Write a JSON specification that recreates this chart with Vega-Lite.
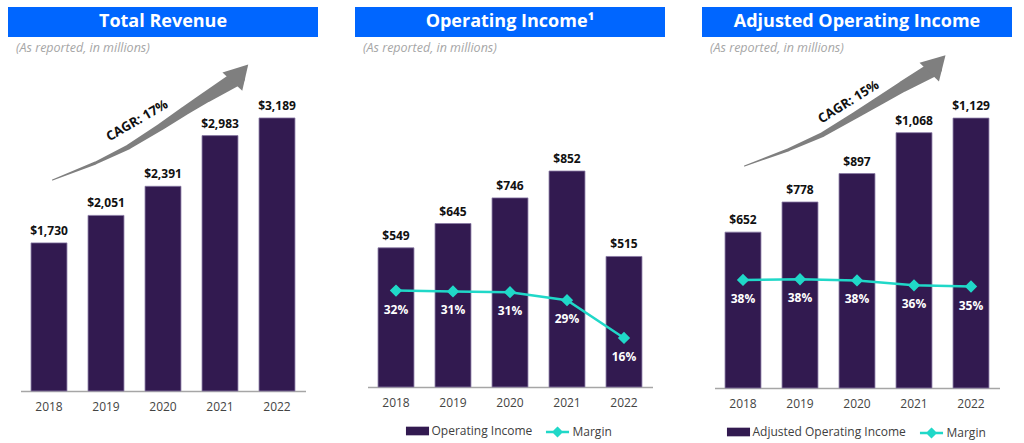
{
  "$schema": "https://vega.github.io/schema/vega-lite/v6.json",
  "padding": {"left": 8, "top": 7, "right": 4, "bottom": 0},
  "background": "#FFFFFF",
  "config": {"view": {"stroke": null}, "font": "Open Sans", "legend": {"layout": {"bottom": {"anchor": "middle", "direction": "horizontal", "margin": 14}}}},
  "spacing": 37,
  "resolve": {"scale": {"color": "independent", "stroke": "independent"}, "legend": {"color": "independent", "stroke": "independent"}},
  "hconcat": [
    {
      "spacing": 23, "bounds": "flush", "center": true,
      "vconcat": [
        {
          "width": 310, "height": 30,
          "view": {"fill": "#0066FF", "stroke": null},
          "title": {"text": "(As reported, in millions)", "orient": "bottom", "anchor": "start", "dx": 8, "offset": 5, "baseline": "top", "fontSize": 12.5, "fontStyle": "italic", "fontWeight": "normal", "font": "Open Sans", "color": "#A6A6A6"},
          "data": {"values": [{"t": "Total Revenue"}]},
          "mark": {"type": "text", "color": "#FFFFFF", "font": "Open Sans", "fontWeight": "bold", "fontSize": 18, "baseline": "middle", "align": "center"},
          "encoding": {"text": {"field": "t"}}
        },
        {
          "width": 285, "height": 331,
          "resolve": {"scale": {"x": "independent", "y": "independent"}},
          "layer": [
            {
              "data": {"values": [
                {"year": "2018", "value": 1730},
                {"year": "2019", "value": 2051},
                {"year": "2020", "value": 2391},
                {"year": "2021", "value": 2983},
                {"year": "2022", "value": 3189}
              ]},
              "encoding": {
                "x": {"field": "year", "type": "ordinal", "scale": {"type": "band", "paddingInner": 0.37, "paddingOuter": 0.185},
                  "axis": {"title": null, "labelAngle": 0, "labelFont": "Open Sans", "labelFontSize": 12, "labelColor": "#444444", "ticks": false, "tickSize": 0, "labelPadding": 10, "domainColor": "#A6A6A6", "domainWidth": 1.5, "grid": false}},
                "y": {"field": "value", "type": "quantitative", "scale": {"domain": [0, 3866], "nice": false}, "axis": null}
              },
              "layer": [
                {"mark": {"type": "bar", "color": "#321A50", "stroke": "#8878A3", "strokeWidth": 0.8}},
                {"mark": {"type": "text", "dy": -12, "baseline": "middle", "font": "Open Sans", "fontWeight": "bold", "fontSize": 12, "color": "#111111"},
                 "encoding": {"text": {"field": "value", "type": "quantitative", "format": "$,.0f"}}}
              ]
            },
            {
              "encoding": {
                "x": {"field": "ax", "type": "quantitative", "scale": {"domain": [2017.5, 2022.5], "nice": false, "zero": false}, "axis": null},
                "y": {"field": "av", "type": "quantitative", "scale": {"domain": [0, 3866], "nice": false, "zero": false}, "axis": null}
              },
              "layer": [
                {
                  "data": {"values": [
                    {"i": 1, "ax": 2018.061, "av": 2464.7, "w": 0},
                    {"i": 2, "ax": 2018.816, "av": 2663.2, "w": 3},
                    {"i": 3, "ax": 2019.395, "av": 2850.1, "w": 5},
                    {"i": 4, "ax": 2019.956, "av": 3083.8, "w": 7},
                    {"i": 5, "ax": 2020.377, "av": 3270.6, "w": 9},
                    {"i": 6, "ax": 2020.763, "av": 3434.2, "w": 11},
                    {"i": 7, "ax": 2021.307, "av": 3656.1, "w": 15}
                  ]},
                  "mark": {"type": "trail", "color": "#7F7F7F"},
                  "encoding": {"size": {"field": "w", "type": "quantitative", "scale": {"domain": [0, 15], "range": [0, 15]}, "legend": null}, "order": {"field": "i", "type": "quantitative"}}
                },
                {
                  "data": {"values": [{"ax": 2021.356, "av": 3714.5}]},
                  "mark": {"type": "point", "shape": "triangle-up", "filled": true, "color": "#7F7F7F", "opacity": 1, "size": 729, "angle": 42.8}
                },
                {
                  "data": {"values": [{"ax": 2019.547, "av": 3157, "label": "CAGR: 17%"}]},
                  "mark": {"type": "text", "angle": 329.7, "font": "Open Sans", "fontWeight": "bold", "fontSize": 13, "color": "#111111", "baseline": "middle", "align": "center"},
                  "encoding": {"text": {"field": "label"}}
                }
              ]
            }
          ]
        }
      ]
    },
    {
      "spacing": 23, "bounds": "flush", "center": true,
      "resolve": {"scale": {"color": "independent", "stroke": "independent"}},
      "vconcat": [
        {
          "width": 310, "height": 30,
          "view": {"fill": "#0066FF", "stroke": null},
          "title": {"text": "(As reported, in millions)", "orient": "bottom", "anchor": "start", "dx": 8, "offset": 5, "baseline": "top", "fontSize": 12.5, "fontStyle": "italic", "fontWeight": "normal", "font": "Open Sans", "color": "#A6A6A6"},
          "data": {"values": [{"t": "Operating Income¹"}]},
          "mark": {"type": "text", "color": "#FFFFFF", "font": "Open Sans", "fontWeight": "bold", "fontSize": 18, "baseline": "middle", "align": "center"},
          "encoding": {"text": {"field": "t"}}
        },
        {
          "width": 285, "height": 327,
          "resolve": {"scale": {"x": "independent", "y": "independent"}},
          "layer": [
            {
              "data": {"values": [
                {"year": "2018", "value": 549},
                {"year": "2019", "value": 645},
                {"year": "2020", "value": 746},
                {"year": "2021", "value": 852},
                {"year": "2022", "value": 515}
              ]},
              "encoding": {
                "x": {"field": "year", "type": "ordinal", "scale": {"type": "band", "paddingInner": 0.37, "paddingOuter": 0.185},
                  "axis": {"title": null, "labelAngle": 0, "labelFont": "Open Sans", "labelFontSize": 12, "labelColor": "#444444", "ticks": false, "tickSize": 0, "labelPadding": 10, "domainColor": "#A6A6A6", "domainWidth": 1.5, "grid": false}},
                "y": {"field": "value", "type": "quantitative", "scale": {"domain": [0, 1290], "nice": false}, "axis": null}
              },
              "layer": [
                {"mark": {"type": "bar", "stroke": "#8878A3", "strokeWidth": 0.8},
                 "encoding": {"color": {"datum": "Operating Income", "type": "nominal",
                   "scale": {"domain": ["Operating Income"], "range": ["#321A50"]},
                   "legend": {"orient": "bottom", "title": null, "direction": "horizontal", "offset": 13, "padding": 0,
                     "labelFont": "Open Sans", "labelFontSize": 12, "labelColor": "#404040", "symbolSize": 370, "labelOffset": 4,
                     "symbolType": "M-1.2,-0.45H1.2V0.45H-1.2Z", "symbolStrokeWidth": 0, "symbolOpacity": 1}}}},
                {"mark": {"type": "text", "dy": -12, "baseline": "middle", "font": "Open Sans", "fontWeight": "bold", "fontSize": 12, "color": "#111111"},
                 "encoding": {"text": {"field": "value", "type": "quantitative", "format": "$,.0f"}}}
              ]
            },
            {
              "data": {"values": [
                {"year": "2018", "margin": 0.3173},
                {"year": "2019", "margin": 0.3145},
                {"year": "2020", "margin": 0.3120},
                {"year": "2021", "margin": 0.2856},
                {"year": "2022", "margin": 0.1615}
              ]},
              "encoding": {
                "x": {"field": "year", "type": "ordinal", "scale": {"type": "point", "padding": 0.5}, "axis": null},
                "y": {"field": "margin", "type": "quantitative", "scale": {"domain": [0, 1.076], "nice": false}, "axis": null}
              },
              "layer": [
                {"mark": {"type": "line", "strokeWidth": 2.5, "point": {"shape": "diamond", "size": 90, "filled": true, "color": "#20D8C8", "opacity": 1}},
                 "encoding": {"stroke": {"datum": "Margin", "type": "nominal",
                   "scale": {"domain": ["Margin"], "range": ["#20D8C8"]},
                   "legend": {"orient": "bottom", "title": null, "direction": "horizontal", "offset": 13, "padding": 0,
                     "labelFont": "Open Sans", "labelFontSize": 12, "labelColor": "#404040", "symbolSize": 370, "labelOffset": 4,
                     "symbolType": "M-1.2,0H1.2M0,-0.4L0.4,0L0,0.4L-0.4,0Z", "symbolStrokeWidth": 2.5, "symbolFillColor": "#20D8C8", "symbolOpacity": 1}}}},
                {"mark": {"type": "text", "dy": 19, "baseline": "middle", "color": "#FFFFFF", "font": "Open Sans", "fontWeight": "bold", "fontSize": 12},
                 "encoding": {"text": {"field": "margin", "type": "quantitative", "format": ".0%"}}}
              ]
            }
          ]
        }
      ]
    },
    {
      "spacing": 23, "bounds": "flush", "center": true,
      "resolve": {"scale": {"color": "independent", "stroke": "independent"}},
      "vconcat": [
        {
          "width": 310, "height": 30,
          "view": {"fill": "#0066FF", "stroke": null},
          "title": {"text": "(As reported, in millions)", "orient": "bottom", "anchor": "start", "dx": 8, "offset": 5, "baseline": "top", "fontSize": 12.5, "fontStyle": "italic", "fontWeight": "normal", "font": "Open Sans", "color": "#A6A6A6"},
          "data": {"values": [{"t": "Adjusted Operating Income"}]},
          "mark": {"type": "text", "color": "#FFFFFF", "font": "Open Sans", "fontWeight": "bold", "fontSize": 18, "baseline": "middle", "align": "center"},
          "encoding": {"text": {"field": "t"}}
        },
        {
          "width": 285, "height": 328,
          "resolve": {"scale": {"x": "independent", "y": "independent"}},
          "layer": [
            {
              "data": {"values": [
                {"year": "2018", "value": 652},
                {"year": "2019", "value": 778},
                {"year": "2020", "value": 897},
                {"year": "2021", "value": 1068},
                {"year": "2022", "value": 1129}
              ]},
              "encoding": {
                "x": {"field": "year", "type": "ordinal", "scale": {"type": "band", "paddingInner": 0.37, "paddingOuter": 0.185},
                  "axis": {"title": null, "labelAngle": 0, "labelFont": "Open Sans", "labelFontSize": 12, "labelColor": "#444444", "ticks": false, "tickSize": 0, "labelPadding": 10, "domainColor": "#A6A6A6", "domainWidth": 1.5, "grid": false}},
                "y": {"field": "value", "type": "quantitative", "scale": {"domain": [0, 1372], "nice": false}, "axis": null}
              },
              "layer": [
                {"mark": {"type": "bar", "stroke": "#8878A3", "strokeWidth": 0.8},
                 "encoding": {"color": {"datum": "Adjusted Operating Income", "type": "nominal",
                   "scale": {"domain": ["Adjusted Operating Income"], "range": ["#321A50"]},
                   "legend": {"orient": "bottom", "title": null, "direction": "horizontal", "offset": 13, "padding": 0,
                     "labelFont": "Open Sans", "labelFontSize": 12, "labelColor": "#404040", "symbolSize": 370, "labelOffset": 4,
                     "symbolType": "M-1.2,-0.45H1.2V0.45H-1.2Z", "symbolStrokeWidth": 0, "symbolOpacity": 1}}}},
                {"mark": {"type": "text", "dy": -12, "baseline": "middle", "font": "Open Sans", "fontWeight": "bold", "fontSize": 12, "color": "#111111"},
                 "encoding": {"text": {"field": "value", "type": "quantitative", "format": "$,.0f"}}}
              ]
            },
            {
              "data": {"values": [
                {"year": "2018", "margin": 0.3769},
                {"year": "2019", "margin": 0.3793},
                {"year": "2020", "margin": 0.3752},
                {"year": "2021", "margin": 0.3580},
                {"year": "2022", "margin": 0.3540}
              ]},
              "encoding": {
                "x": {"field": "year", "type": "ordinal", "scale": {"type": "point", "padding": 0.5}, "axis": null},
                "y": {"field": "margin", "type": "quantitative", "scale": {"domain": [0, 1.144], "nice": false}, "axis": null}
              },
              "layer": [
                {"mark": {"type": "line", "strokeWidth": 2.5, "point": {"shape": "diamond", "size": 90, "filled": true, "color": "#20D8C8", "opacity": 1}},
                 "encoding": {"stroke": {"datum": "Margin", "type": "nominal",
                   "scale": {"domain": ["Margin"], "range": ["#20D8C8"]},
                   "legend": {"orient": "bottom", "title": null, "direction": "horizontal", "offset": 13, "padding": 0,
                     "labelFont": "Open Sans", "labelFontSize": 12, "labelColor": "#404040", "symbolSize": 370, "labelOffset": 4,
                     "symbolType": "M-1.2,0H1.2M0,-0.4L0.4,0L0,0.4L-0.4,0Z", "symbolStrokeWidth": 2.5, "symbolFillColor": "#20D8C8", "symbolOpacity": 1}}}},
                {"mark": {"type": "text", "dy": 19, "baseline": "middle", "color": "#FFFFFF", "font": "Open Sans", "fontWeight": "bold", "fontSize": 12},
                 "encoding": {"text": {"field": "margin", "type": "quantitative", "format": ".0%"}}}
              ]
            },
            {
              "encoding": {
                "x": {"field": "ax", "type": "quantitative", "scale": {"domain": [2017.5, 2022.5], "nice": false, "zero": false}, "axis": null},
                "y": {"field": "av", "type": "quantitative", "scale": {"domain": [0, 1372], "nice": false, "zero": false}, "axis": null}
              },
              "layer": [
                {
                  "data": {"values": [
                    {"i": 1, "ax": 2018.026, "av": 928.5, "w": 0},
                    {"i": 2, "ax": 2018.800, "av": 996.7, "w": 3},
                    {"i": 3, "ax": 2019.400, "av": 1060.7, "w": 5},
                    {"i": 4, "ax": 2019.970, "av": 1140.5, "w": 7},
                    {"i": 5, "ax": 2020.410, "av": 1204.5, "w": 9},
                    {"i": 6, "ax": 2020.800, "av": 1260.6, "w": 11},
                    {"i": 7, "ax": 2021.360, "av": 1336.7, "w": 15}
                  ]},
                  "mark": {"type": "trail", "color": "#7F7F7F"},
                  "encoding": {"size": {"field": "w", "type": "quantitative", "scale": {"domain": [0, 15], "range": [0, 15]}, "legend": null}, "order": {"field": "i", "type": "quantitative"}}
                },
                {
                  "data": {"values": [{"ax": 2021.41, "av": 1356.8}]},
                  "mark": {"type": "point", "shape": "triangle-up", "filled": true, "color": "#7F7F7F", "opacity": 1, "size": 729, "angle": 44}
                },
                {
                  "data": {"values": [{"ax": 2019.854, "av": 1196, "label": "CAGR: 15%"}]},
                  "mark": {"type": "text", "angle": 328, "font": "Open Sans", "fontWeight": "bold", "fontSize": 13, "color": "#111111", "baseline": "middle", "align": "center"},
                  "encoding": {"text": {"field": "label"}}
                }
              ]
            }
          ]
        }
      ]
    }
  ]
}
